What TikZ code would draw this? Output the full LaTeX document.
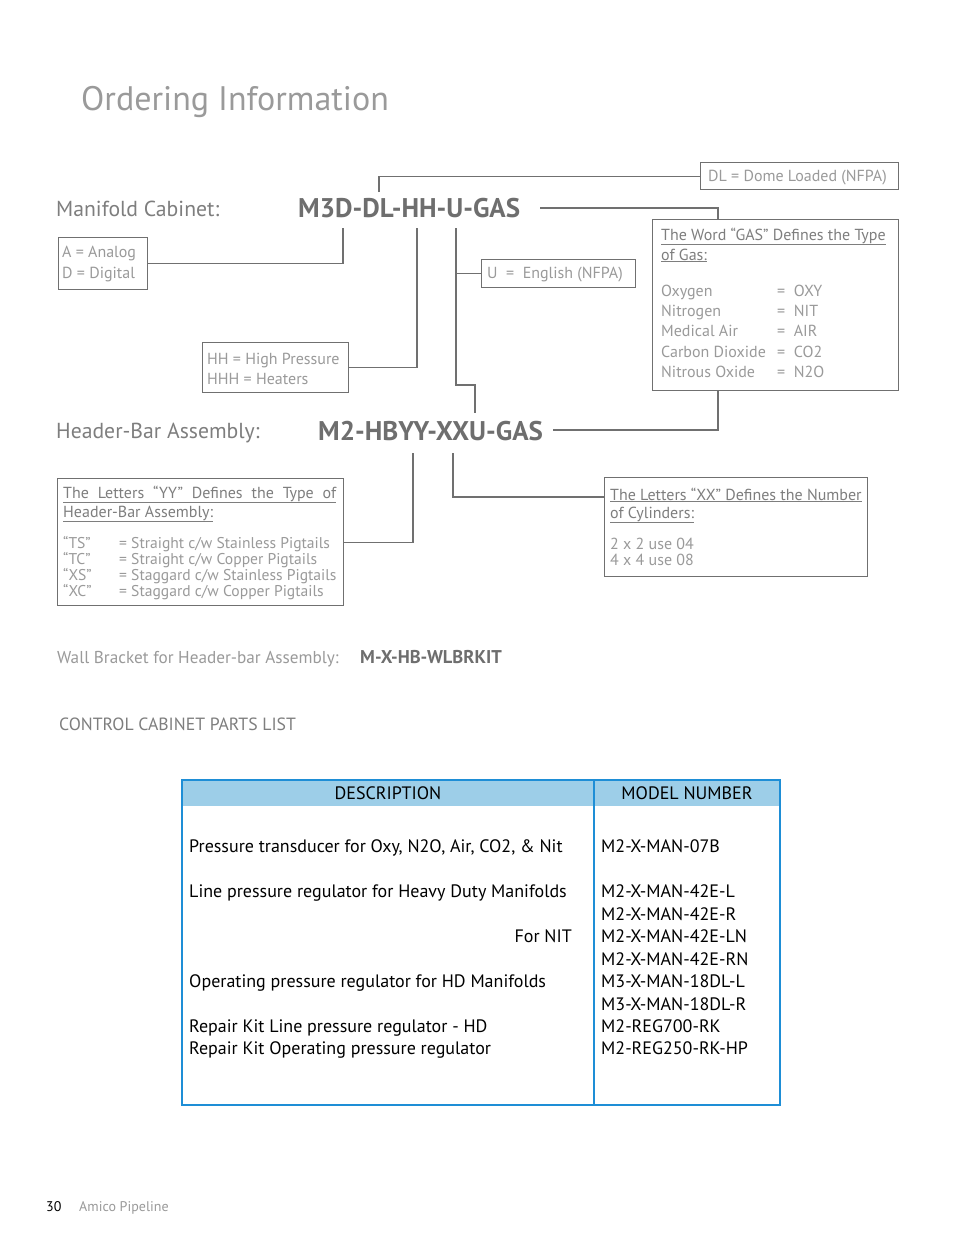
\documentclass[tikz,border=0pt]{standalone}
\usepackage{fontspec}
\setmainfont{PT Sans}
\usetikzlibrary{positioning}
\definecolor{linegray}{HTML}{707070}
\definecolor{softgray}{HTML}{9A9A9A}
\definecolor{headgray}{HTML}{7E7E7E}
\definecolor{codegray}{HTML}{6E6E6E}
\definecolor{tableblue}{HTML}{1E8ED6}
\definecolor{headblue}{HTML}{9DCEE8}
\tikzset{
  link/.style      = {draw=linegray, line width=1.1pt},
  keybox/.style    = {draw=linegray, line width=1.1pt, inner sep=0pt, anchor=north west},
  boxtext/.style   = {font=\fontsize{16}{18}\selectfont, text=softgray, anchor=base west, inner sep=0pt},
  boxhead/.style   = {font=\fontsize{16}{18}\selectfont, text=headgray, anchor=base west, inner sep=0pt},
  sectlabel/.style = {font=\fontsize{21.7}{25}\selectfont, text=headgray, anchor=base west, inner sep=0pt},
  codetext/.style  = {font=\fontsize{27}{30}\selectfont\bfseries, text=codegray, anchor=base west, inner sep=0pt},
  celltext/.style  = {font=\fontsize{18}{20}\selectfont, text=black, anchor=base west, inner sep=0pt},
}

\begin{document}
\begin{tikzpicture}[x=1pt, y=-1pt]
  \useasboundingbox[fill=white] (0,0) rectangle (954,1235);

  % ---- title ---------------------------------------------------------------
  \node[font=\fontsize{34}{38}\selectfont, text=softgray, anchor=base west, inner sep=0pt]
    (title) at (81,110) {Ordering Information};

  % ---- manifold cabinet code -----------------------------------------------
  \node[sectlabel] (mlabel) at (56,216) {Manifold Cabinet:};
  \node[codetext] (mcode) at (298,217) {M3D-DL-HH-U-GAS};

  \node[keybox, minimum width=198pt, minimum height=27pt] (dlbox) at (700,162) {};
  \node[boxtext] at (708,181) {DL = Dome Loaded (NFPA)};

  \node[keybox, minimum width=89pt, minimum height=52pt] (adbox) at (58,237) {};
  \node[boxtext] at (62,257) {A = Analog};
  \node[boxtext] at (62,278) {D = Digital};

  \node[keybox, minimum width=146pt, minimum height=50pt] (hhbox) at (202,342) {};
  \node[boxtext] at (207,364) {HH = High Pressure};
  \node[boxtext] at (207,384) {HHH = Heaters};

  \node[keybox, minimum width=154pt, minimum height=28pt] (ubox) at (481,259) {};
  \node[boxtext] at (487,278) {U \ = \ English (NFPA)};

  \node[keybox, minimum width=246pt, minimum height=171pt] (gasbox) at (652,219) {};
  \node[boxhead] at (661,240) {\underline{The Word “GAS” Defines the Type}};
  \node[boxhead] at (661,260) {\underline{of Gas:}};
  \foreach \y/\gname/\gcode in {296/Oxygen/OXY, 316/Nitrogen/NIT, 336/Medical Air/AIR,
                                357/Carbon Dioxide/CO2, 377/Nitrous Oxide/N2O} {
    \node[boxtext] at (661,\y) {\gname};
    \node[boxtext] at (777,\y) {= \ \gcode};
  }

  % taps under the manifold code
  \coordinate (tapDL) at (379,192);
  \coordinate (tapGAS) at (540,208);
  \coordinate (tapAD) at (343,228);
  \coordinate (tapHH) at (417,228);
  \coordinate (tapU) at (456,228);
  \coordinate (tapHB) at (475,413);

  \draw[link] (tapDL) |- (dlbox);
  \draw[link] (tapGAS) -| ([xshift=66pt]gasbox.north west);
  \draw[link] (tapAD) |- (adbox);
  \draw[link] (tapHH) |- (hhbox);
  \draw[link] (tapU) |- (ubox);
  \draw[link] (tapU) -- ++(0,157) -| (tapHB);

  % ---- header-bar assembly code --------------------------------------------
  \node[sectlabel] (hlabel) at (56,438) {Header-Bar Assembly:};
  \node[codetext] (hcode) at (318,440) {M2-HBYY-XXU-GAS};

  \node[keybox, minimum width=286pt, minimum height=127pt] (yybox) at (57,478) {};
  \node[boxhead] at (63,498) {\underline{\makebox[273pt][s]{The Letters “YY” Defines the Type of}}};
  \node[boxhead] at (63,517) {\underline{Header-Bar Assembly:}};
  \foreach \y/\ycode/\ytext in {548/“TS”/{Straight c/w Stainless Pigtails},
                                564/“TC”/{Straight c/w Copper Pigtails},
                                580/“XS”/{Staggard c/w Stainless Pigtails},
                                596/“XC”/{Staggard c/w Copper Pigtails}} {
    \node[boxtext, font=\fontsize{15.6}{17}\selectfont] at (63,\y) {\ycode};
    \node[boxtext, font=\fontsize{15.6}{17}\selectfont] at (119,\y) {= \ytext};
  }

  \node[keybox, minimum width=263pt, minimum height=99pt] (xxbox) at (604,477) {};
  \node[boxhead] at (610,500) {\underline{The Letters “XX” Defines the Number}};
  \node[boxhead] at (610,518) {\underline{of Cylinders:}};
  \node[boxtext] at (610,549) {2 x 2 use 04};
  \node[boxtext] at (610,565) {4 x 4 use 08};

  \coordinate (tapHBR) at (553,430);
  \coordinate (tapYY) at (413,453);
  \coordinate (tapXX) at (453,453);
  \draw[link] (tapHBR) -| ([xshift=66pt]gasbox.south west);
  \draw[link] (tapYY) |- (yybox);
  \draw[link] (tapXX) |- ([yshift=-20pt]xxbox.north west);

  % ---- wall bracket and parts list -----------------------------------------
  \node[font=\fontsize{17.2}{20}\selectfont, text=softgray, anchor=base west, inner sep=0pt]
    (wlabel) at (57,663) {Wall Bracket for Header-bar Assembly:};
  \node[font=\fontsize{18.5}{20}\selectfont\bfseries, text=codegray, anchor=base west, inner sep=0pt]
    (wcode) at (360,663) {M-X-HB-WLBRKIT};
  \node[font=\fontsize{17.7}{20}\selectfont, text=headgray, anchor=base west, inner sep=0pt]
    (plabel) at (59,730) {CONTROL CABINET PARTS LIST};

  % ---- table -----------------------------------------------------------------
  \fill[headblue] (182,780) rectangle (780,806);
  \draw[tableblue, line width=1.2pt] (182,780) rectangle (780,1105);
  \draw[tableblue, line width=1.2pt] (594,780) -- (594,1105);
  \node[celltext, anchor=base] (hdesc) at (388,799) {DESCRIPTION};
  \node[celltext, anchor=base] (hmodel) at (687,799) {MODEL NUMBER};

  \node[celltext] at (189,852) {Pressure transducer for Oxy, N2O, Air, CO2, \& Nit};
  \node[celltext] at (189,897) {Line pressure regulator for Heavy Duty Manifolds};
  \node[celltext, anchor=base east] at (572,942) {For NIT};
  \node[celltext] at (189,987) {Operating pressure regulator for HD Manifolds};
  \node[celltext] at (189,1032) {Repair Kit Line pressure regulator - HD};
  \node[celltext] at (189,1054) {Repair Kit Operating pressure regulator};
  \foreach \y/\model in {852/M2-X-MAN-07B, 897/M2-X-MAN-42E-L, 920/M2-X-MAN-42E-R,
                         942/M2-X-MAN-42E-LN, 965/M2-X-MAN-42E-RN, 987/M3-X-MAN-18DL-L,
                         1010/M3-X-MAN-18DL-R, 1032/M2-REG700-RK, 1054/M2-REG250-RK-HP} {
    \node[celltext] at (601,\y) {\model};
  }

  % ---- footer ----------------------------------------------------------------
  \node[font=\fontsize{14}{16}\selectfont, anchor=base west, inner sep=0pt] (pagenum) at (46,1211) {30};
  \node[font=\fontsize{14}{16}\selectfont, text=softgray, anchor=base west, inner sep=0pt]
    (footer) at (79,1211) {Amico Pipeline};
\end{tikzpicture}
\end{document}
